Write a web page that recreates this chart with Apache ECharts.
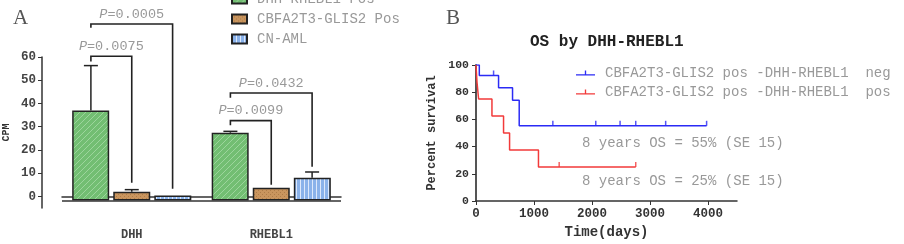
<!DOCTYPE html>
<html>
<head>
<meta charset="utf-8">
<script src="https://cdn.jsdelivr.net/npm/echarts@6/dist/echarts.min.js"></script>
<style>
  html, body { margin: 0; padding: 0; background: #fff; }
  #main { width: 904px; height: 244px; }
</style>
</head>
<body>
<div id="main"></div>
<script>
'use strict';

// panel A: CPM by gene and group
var genes = ['DHH', 'RHEBL1'];
var groups = ['DHH-RHEBL1 Pos', 'CBFA2T3-GLIS2 Pos', 'CN-AML'];
var cpmMean = [
  [37.0, 27.4],
  [2.0, 3.7],
  [0.4, 8.0]
];
var cpmUpper = [
  [56.3, 28.0],
  [2.9, null],
  [null, 10.5]
];
// [gene, left group, right group, top, left end, right end]
var brackets = [
  [0, 0, 2, 74.2, 72.6, 3.3],
  [0, 0, 1, 60.3, 58.1, 5.9],
  [1, 0, 2, 44.5, 42.5, 12.8],
  [1, 0, 1, 32.6, 30.6, 5.0]
];
var pValues = ['0.0005', '0.0075', '0.0432', '0.0099'];

// panel B: Kaplan-Meier
var kmNames = ['CBFA2T3-GLIS2 pos -DHH-RHEBL1  neg', 'CBFA2T3-GLIS2 pos -DHH-RHEBL1  pos'];
var negTime = [0, 57, 389, 630, 745, 3976];
var negSurv = [100, 92.3, 83.2, 74, 55.3, 55.3];
var negCensor = [303, 1325, 2065, 2484, 2754, 3270, 3976];
var posTime = [0, 17, 45, 275, 475, 579, 1077, 2754];
var posSurv = [100, 87.5, 75, 62.5, 50, 37.5, 25, 25];
var posCensor = [1434, 2754];
var dayTicks = [0, 1000, 2000, 3000, 4000];
var osNotes = ['8 years OS = 55% (SE 15)', '8 years OS = 25% (SE 15)'];

var MONO = '"Liberation Mono", "DejaVu Sans Mono", monospace';
var BAR_STEP = 41 / 140;

function pattern(bg, size, draw) {
  var c = document.createElement('canvas');
  c.width = size; c.height = size;
  var ctx = c.getContext('2d');
  ctx.fillStyle = bg;
  ctx.fillRect(0, 0, size, size);
  draw(ctx);
  return { image: c, repeat: 'repeat' };
}

var fills = [
  pattern('#72be72', 6, function (ctx) {
    ctx.strokeStyle = '#9cd59c';
    ctx.lineWidth = 1;
    ctx.beginPath(); ctx.moveTo(0, 6); ctx.lineTo(6, 0); ctx.stroke();
  }),
  pattern('#c9955e', 4, function (ctx) {
    ctx.fillStyle = '#ae7c48';
    ctx.fillRect(0, 0, 1, 1); ctx.fillRect(2, 2, 1, 1);
  }),
  pattern('#8ab2ea', 4, function (ctx) {
    ctx.fillStyle = '#dce8fb';
    ctx.fillRect(0, 0, 1, 4);
  })
];

function kmLine(times, surv) {
  return times.map(function (t, i) { return [t, surv[i]]; });
}
function kmAt(times, surv, t) {
  var v = surv[0];
  for (var i = 0; i < times.length; i++) if (times[i] <= t) v = surv[i];
  return v;
}

var barSeries = groups.map(function (g, gi) {
  var s = {
    name: g,
    type: 'bar',
    xAxisIndex: 0,
    yAxisIndex: 0,
    barWidth: 37,
    barGap: '11%',
    data: cpmMean[gi],
    itemStyle: { color: fills[gi], borderColor: '#222', borderWidth: 1.5 },
    z: 3
  };
  if (gi === 0) {
    s.markLine = {
      silent: true,
      symbol: ['none', 'none'],
      label: { show: false },
      lineStyle: { color: '#333', width: 1.5, type: 'solid' },
      data: [{ yAxis: -1.8 }]
    };
  }
  return s;
});

var errData = [];
groups.forEach(function (g, gi) {
  genes.forEach(function (n, ci) {
    if (cpmUpper[gi][ci] != null) errData.push([ci, gi, cpmMean[gi][ci], cpmUpper[gi][ci]]);
  });
});

function groupX(api, cat, grp) {
  var w = api.size([1, 0])[0];
  return api.coord([cat, 0])[0] + (grp - 1) * w * BAR_STEP;
}

var option = {
  animation: false,
  textStyle: { fontFamily: MONO },
  graphic: [
    { type: 'text', left: 13, top: 8, style: { text: 'A', font: '21px "Liberation Serif", serif', fill: '#555' } },
    { type: 'text', left: 446, top: 8, style: { text: 'B', font: '21px "Liberation Serif", serif', fill: '#555' } },
    { type: 'text', left: 530, top: 34, style: { text: 'OS by DHH-RHEBL1', font: 'bold 16px ' + MONO, fill: '#222' } },
    { type: 'text', left: 582, top: 136, style: { text: osNotes[0], font: '14px ' + MONO, fill: '#999' } },
    { type: 'text', left: 582, top: 174, style: { text: osNotes[1], font: '14px ' + MONO, fill: '#999' } }
  ],
  legend: [
    {
      data: groups,
      orient: 'vertical',
      left: 231,
      top: -8,
      padding: 0,
      itemWidth: 15,
      itemHeight: 9,
      itemGap: 6,
      icon: 'rect',
      textStyle: { fontFamily: MONO, fontSize: 14, color: '#999', lineHeight: 14, padding: [0, 0, 0, 5] }
    },
    {
      data: kmNames,
      orient: 'vertical',
      left: 576,
      top: 66,
      padding: 0,
      itemWidth: 19,
      itemHeight: 6,
      itemGap: 5,
      icon: 'path://M0,4L20,4L20,5.4L0,5.4Z M9.3,0L10.7,0L10.7,4L9.3,4Z',
      textStyle: { fontFamily: MONO, fontSize: 14, color: '#999', lineHeight: 14, padding: [0, 0, 0, 5] }
    }
  ],
  grid: [
    { left: 61, right: 563, top: 57, bottom: 36 },
    { left: 476, right: 167, top: 65, bottom: 35 }
  ],
  xAxis: [
    {
      type: 'category',
      gridIndex: 0,
      data: genes,
      offset: 17,
      axisLine: { lineStyle: { color: '#333', width: 1.5 } },
      axisTick: { alignWithLabel: true, length: 3, lineStyle: { color: '#333' } },
      axisLabel: { fontFamily: MONO, fontWeight: 'bold', fontSize: 12, color: '#444', margin: 4 }
    },
    {
      type: 'value',
      gridIndex: 1,
      min: 0,
      max: 4500,
      name: 'Time(days)',
      nameLocation: 'middle',
      nameGap: 24,
      nameTextStyle: { fontFamily: MONO, fontWeight: 'bold', fontSize: 14, color: '#333' },
      splitLine: { show: false },
      axisLine: { lineStyle: { color: '#333', width: 1.5 } },
      axisTick: { customValues: dayTicks, length: 4, lineStyle: { color: '#333' } },
      axisLabel: {
        customValues: dayTicks,
        formatter: function (v) { return String(v); },
        fontFamily: MONO, fontWeight: 'bold', fontSize: 12.5, color: '#333', margin: 6
      }
    }
  ],
  yAxis: [
    {
      type: 'value',
      gridIndex: 0,
      min: -5,
      max: 60,
      startValue: -1.8,
      offset: 20,
      name: 'CPM',
      nameLocation: 'middle',
      nameGap: 31,
      nameTextStyle: { fontFamily: MONO, fontWeight: 'bold', fontSize: 10, color: '#333' },
      splitLine: { show: false },
      axisLine: { show: true, lineStyle: { color: '#333', width: 1.5 } },
      axisTick: { show: true, customValues: [0, 10, 20, 30, 40, 50, 60], length: 4, lineStyle: { color: '#333' } },
      axisLabel: { customValues: [0, 10, 20, 30, 40, 50, 60], fontFamily: MONO, fontWeight: 'bold', fontSize: 12.5, color: '#444', margin: 6 }
    },
    {
      type: 'value',
      gridIndex: 1,
      min: 0,
      max: 100,
      interval: 20,
      name: 'Percent survival',
      nameLocation: 'middle',
      nameGap: 38,
      nameTextStyle: { fontFamily: MONO, fontWeight: 'bold', fontSize: 12, color: '#333' },
      splitLine: { show: false },
      axisLine: { show: true, lineStyle: { color: '#555', width: 2 } },
      axisTick: { show: true, length: 4, lineStyle: { color: '#333' } },
      axisLabel: { fontFamily: MONO, fontWeight: 'bold', fontSize: 11.5, color: '#333', margin: 7 }
    }
  ],
  series: barSeries.concat([
    {
      type: 'custom',
      xAxisIndex: 0,
      yAxisIndex: 0,
      clip: false,
      z: 4,
      data: errData,
      renderItem: function (params, api) {
        var x = groupX(api, api.value(0), api.value(1));
        var y0 = api.coord([api.value(0), api.value(2)])[1];
        var y1 = api.coord([api.value(0), api.value(3)])[1];
        return {
          type: 'group',
          children: [
            { type: 'line', shape: { x1: x, y1: y0, x2: x, y2: y1 }, style: { stroke: '#222', lineWidth: 1.5 } },
            { type: 'line', shape: { x1: x - 7, y1: y1, x2: x + 7, y2: y1 }, style: { stroke: '#222', lineWidth: 1.5 } }
          ]
        };
      }
    },
    {
      type: 'custom',
      xAxisIndex: 0,
      yAxisIndex: 0,
      clip: false,
      z: 4,
      data: brackets,
      renderItem: function (params, api) {
        var cat = api.value(0);
        var xl = groupX(api, cat, api.value(1));
        var xr = groupX(api, cat, api.value(2));
        var yt = api.coord([cat, api.value(3)])[1];
        var yl = api.coord([cat, api.value(4)])[1];
        var yr = api.coord([cat, api.value(5)])[1];
        return {
          type: 'group',
          children: [
            {
              type: 'polyline',
              shape: { points: [[xl, yl], [xl, yt], [xr, yt], [xr, yr]] },
              style: { stroke: '#222', lineWidth: 1.6, fill: null }
            },
            {
              type: 'text',
              x: (xl + xr) / 2,
              y: yt - 3,
              style: {
                text: '{i|P}=' + pValues[params.dataIndex],
                fill: '#999',
                fontFamily: MONO,
                fontSize: 13.5,
                align: 'center',
                verticalAlign: 'bottom',
                rich: { i: { fontStyle: 'italic', fontFamily: MONO, fontSize: 13.5, fill: '#999' } }
              }
            }
          ]
        };
      }
    },
    {
      name: kmNames[0],
      type: 'line',
      xAxisIndex: 1,
      yAxisIndex: 1,
      step: 'end',
      symbol: 'none',
      data: kmLine(negTime, negSurv),
      itemStyle: { color: '#2b2bf5' },
      lineStyle: { color: '#2b2bf5', width: 1.5 },
      z: 3
    },
    {
      name: kmNames[1],
      type: 'line',
      xAxisIndex: 1,
      yAxisIndex: 1,
      step: 'end',
      symbol: 'none',
      data: kmLine(posTime, posSurv),
      itemStyle: { color: '#f23a3a' },
      lineStyle: { color: '#f23a3a', width: 1.5 },
      z: 3
    },
    {
      name: kmNames[0],
      type: 'scatter',
      xAxisIndex: 1,
      yAxisIndex: 1,
      symbol: 'rect',
      symbolSize: [1.5, 5],
      symbolOffset: [0, -2.5],
      itemStyle: { color: '#2b2bf5' },
      data: negCensor.map(function (t) { return [t, kmAt(negTime, negSurv, t)]; }),
      z: 3
    },
    {
      name: kmNames[1],
      type: 'scatter',
      xAxisIndex: 1,
      yAxisIndex: 1,
      symbol: 'rect',
      symbolSize: [1.5, 5],
      symbolOffset: [0, -2.5],
      itemStyle: { color: '#f23a3a' },
      data: posCensor.map(function (t) { return [t, kmAt(posTime, posSurv, t)]; }),
      z: 3
    }
  ])
};

var myChart = echarts.init(document.getElementById('main'), null, { renderer: 'canvas' });
myChart.setOption(option);
</script>
</body>
</html>
